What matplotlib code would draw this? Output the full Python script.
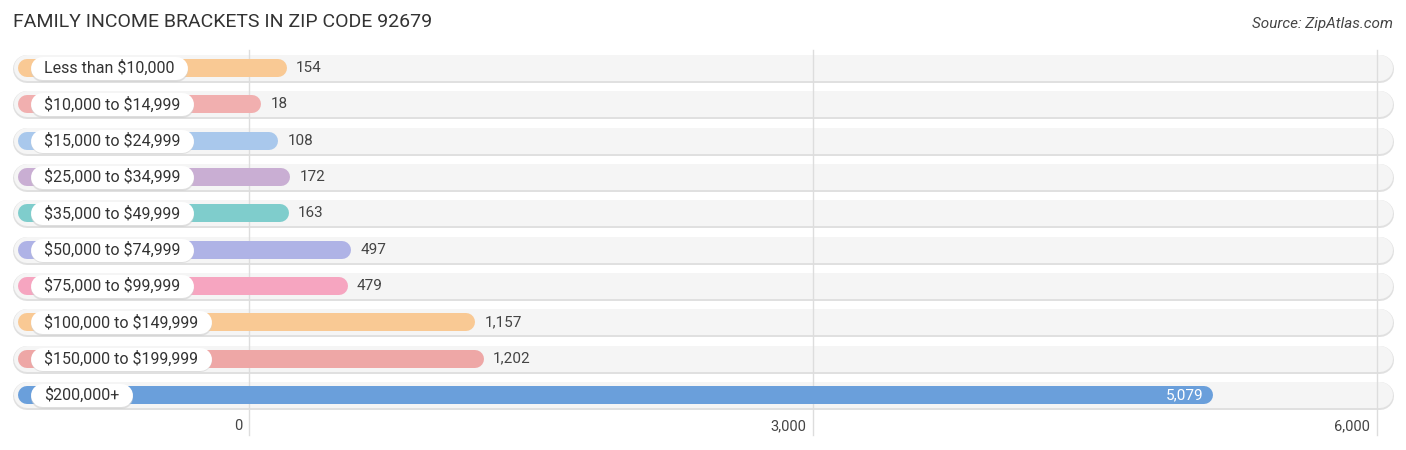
import matplotlib
matplotlib.use("Agg")
import matplotlib.pyplot as plt

plt.rcParams['font.family'] = ['Roboto', 'DejaVu Sans']

title = "FAMILY INCOME BRACKETS IN ZIP CODE 92679"
source = "Source: ZipAtlas.com"

categories = ["Less than $10,000", "$10,000 to $14,999", "$15,000 to $24,999",
              "$25,000 to $34,999", "$35,000 to $49,999", "$50,000 to $74,999",
              "$75,000 to $99,999", "$100,000 to $149,999", "$150,000 to $199,999",
              "$200,000+"]
values = [154, 18, 108, 172, 163, 497, 479, 1157, 1202, 5079]
colors = ["#F9C994", "#F1AFAF", "#A9C8EC", "#C9AED3", "#7FCDCC",
          "#AFB3E6", "#F6A5C0", "#F9C994", "#EEA7A6", "#6A9FDB"]
ticks = [0, 3000, 6000]
tick_labels = ["0", "3,000", "6,000"]

W, H, DPI = 1406, 450, 100
PX = 1127.7 / 6000      # pixels per unit
X0 = 249                 # pixel of zero
ROW0, PITCH = 68, 36.33  # pixel of first row centre, row pitch


def px2x(p):
    return (p - X0) / PX


def pt(p):
    return p * 72 / DPI


fig = plt.figure(figsize=(W / DPI, H / DPI), dpi=DPI)
ax = fig.add_axes([0, 0, 1, 1])
ax.set_xlim(px2x(0), px2x(W))
ax.set_ylim((H - ROW0) / PITCH, -ROW0 / PITCH)
ax.axis('off')

# gridlines
for t, lab in zip(ticks, tick_labels):
    ax.axvline(t, ymin=1 - 435 / H, ymax=1 - 50 / H, color="#DDDDDD", lw=1, zorder=2)
    ax.annotate(lab, (t, (426 - ROW0) / PITCH),
                xytext=(-pt(7), 0), textcoords="offset points",
                ha="right", va="center", fontsize=10.5, color="#444444")

texts = []
for i, (cat, v, c) in enumerate(zip(categories, values, colors)):
    # background pill
    ax.plot([px2x(27), px2x(1380)], [i + 0.03, i + 0.03], lw=pt(28), color="#E0E0E0",
            solid_capstyle="round", zorder=1)
    ax.plot([px2x(27), px2x(1380)], [i, i], lw=pt(26), color="#F5F5F5",
            solid_capstyle="round", zorder=1)
    # bar
    ax.plot([px2x(27), v], [i, i], lw=pt(18), color=c,
            solid_capstyle="round", zorder=3)
    tx = ax.text(px2x(44), i, cat, ha="left", va="center", fontsize=11.5,
                 color="#333333", zorder=6, parse_math=False)
    texts.append(tx)
    if v > 3000:
        ax.annotate(f"{v:,}", (v, i), xytext=(0, 0), textcoords="offset points",
                    ha="right", va="center", fontsize=11, color="white", zorder=6)
    else:
        ax.annotate(f"{v:,}", (v, i), xytext=(pt(18), 0), textcoords="offset points",
                    ha="left", va="center", fontsize=11, color="#444444", zorder=6)

# white label pills sized to the text
fig.canvas.draw()
inv = ax.transData.inverted()
for i, tx in enumerate(texts):
    bb = tx.get_window_extent()
    xr = inv.transform((bb.x1, 0))[0]
    x_end = xr + 13 / PX - 11.5 / PX
    ax.plot([px2x(41.5), x_end], [i + 0.05, i + 0.05], lw=pt(23), color="#D0D0D0",
            solid_capstyle="round", zorder=4, alpha=0.6)
    ax.plot([px2x(41.5), x_end], [i, i], lw=pt(23), color="white",
            solid_capstyle="round", zorder=5)

fig.text(13 / W, 1 - 22 / H, title, ha="left", va="center", fontsize=14, color="#333333")
fig.text(1393 / W, 1 - 24 / H, source, ha="right", va="center", fontsize=11,
         style="italic", color="#444444")

fig.savefig("out.png", dpi=DPI)
